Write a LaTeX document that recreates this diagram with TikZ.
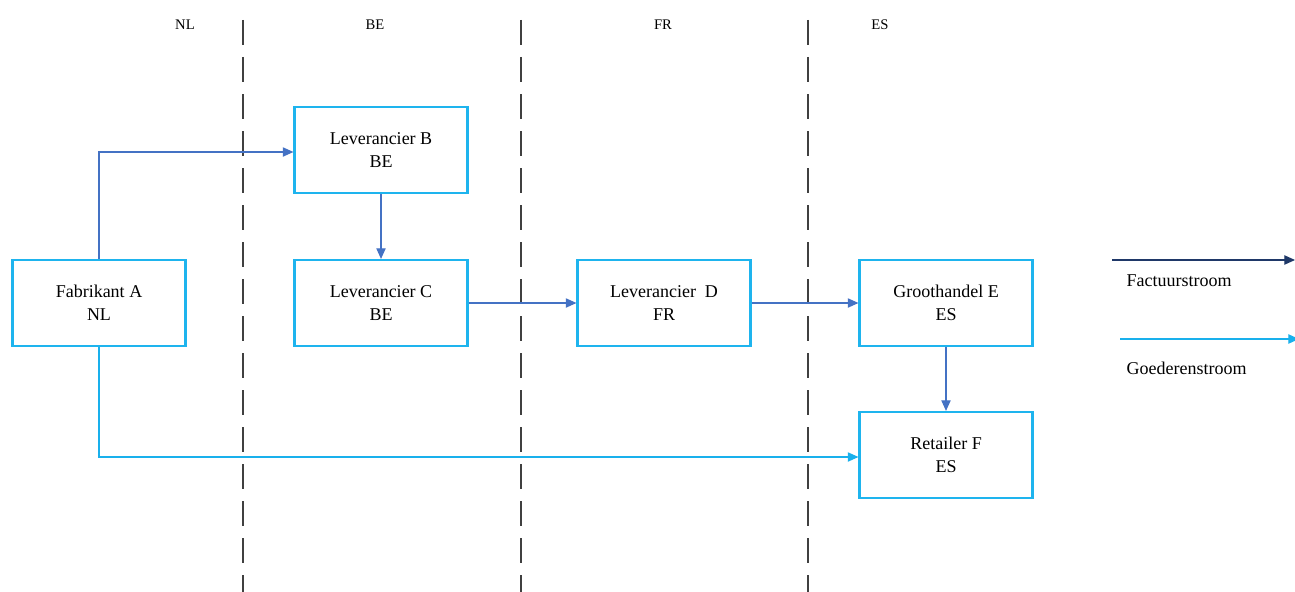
\documentclass[tikz,border=0pt]{standalone}
\usepackage{fontspec}
\setmainfont{Liberation Serif}
\usetikzlibrary{arrows.meta}
\definecolor{boxcyan}{HTML}{1EB4EE}
\definecolor{flowblue}{HTML}{4472C4}
\definecolor{goodscyan}{HTML}{19B0EC}
\definecolor{navy}{HTML}{1F3868}
\definecolor{dashgray}{HTML}{404040}
\begin{document}
\begin{tikzpicture}[x=0.75pt,y=-0.75pt,
  party/.style={draw=boxcyan,line width=1.6pt,minimum width=173*0.75pt,minimum height=86*0.75pt,
    align=center,font=\fontsize{13.5}{17}\selectfont,inner sep=0pt},
  country/.style={font=\fontsize{11}{13}\selectfont},
  legendtxt/.style={font=\fontsize{13.5}{16}\selectfont,anchor=west},
  border/.style={dashgray,line width=1pt,dash pattern=on 18.5pt off 9.25pt},
  invoice/.style={flowblue,line width=0.9pt,-{Triangle[length=8pt,width=7pt]}},
  goods/.style={goodscyan,line width=0.9pt,-{Triangle[length=8pt,width=7pt]}},
  leginv/.style={navy,line width=0.9pt,-{Triangle[length=8pt,width=7pt]}},
]
\useasboundingbox (0,0) rectangle (1295,592);
% country borders
\draw[border] (243,20) -- (243,592);
\draw[border] (521,20) -- (521,592);
\draw[border] (808,20) -- (808,592);
% country labels
\node[country] (nl) at (185,25) {NL};
\node[country] (be) at (375,25) {BE};
\node[country] (fr) at (663,25) {FR};
\node[country] (es) at (880,25) {ES};
% parties
\node[party] (A) at (99,303) {Fabrikant A\\NL};
\node[party] (B) at (381,150) {Leverancier B\\BE};
\node[party] (C) at (381,303) {Leverancier C\\BE};
\node[party] (D) at (664,303) {Leverancier\ \ D\\FR};
\node[party] (E) at (946,303) {Groothandel E\\ES};
\node[party] (F) at (946,455) {Retailer F\\ES};
% invoice flow
\draw[invoice] (A.north) |- ([yshift=-2*0.75pt]B.west);
\draw[invoice] (B.south) -- (C.north);
\draw[invoice] (C.east) -- (D.west);
\draw[invoice] (D.east) -- (E.west);
\draw[invoice] (E.south) -- (F.north);
% goods flow
\draw[goods] (A.south) |- ([yshift=-2*0.75pt]F.west);
% legend
\coordinate (l1s) at (1112,260);
\coordinate (l1e) at (1295,260);
\coordinate (l2s) at (1120,339);
\coordinate (l2e) at (1299,339);
\draw[leginv] (l1s) -- (l1e);
\draw[goods] (l2s) -- (l2e);
\node[legendtxt] (lt1) at (1122,281) {Factuurstroom};
\node[legendtxt] (lt2) at (1122,368) {Goederenstroom};
\end{tikzpicture}
\end{document}
